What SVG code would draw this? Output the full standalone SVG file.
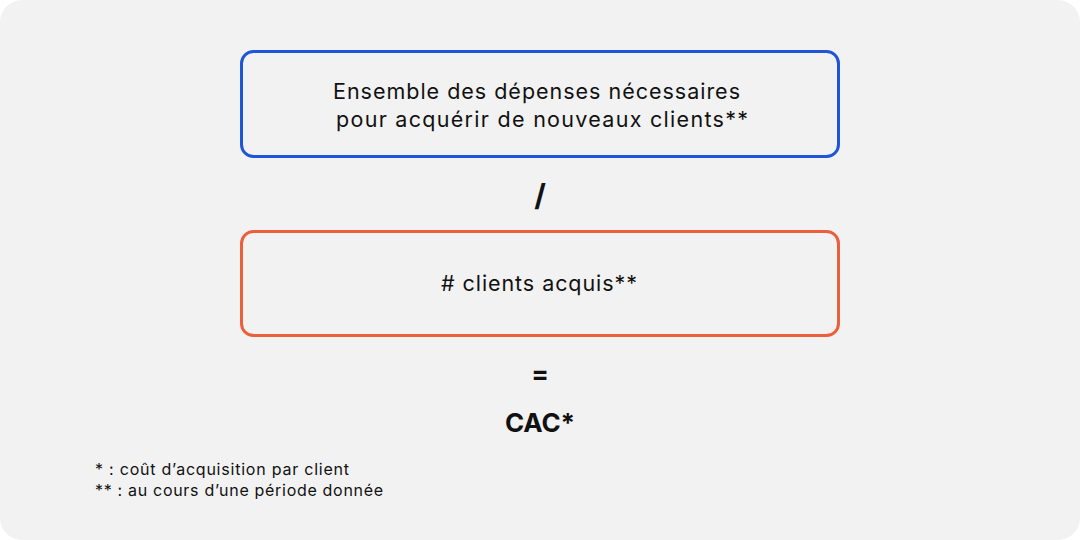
<svg xmlns="http://www.w3.org/2000/svg" width="1080" height="540" viewBox="0 0 1080 540">
<style>
.t{font-family:Inter,"Noto Sans",sans-serif;fill:#111;}
.box{fill:#f2f2f2;stroke-width:3;}
</style>
<rect x="0" y="0" width="1080" height="540" rx="22" fill="#f2f2f2"/>
<g id="node-depenses">
<rect class="box" x="241.5" y="51.5" width="597" height="105" rx="12" stroke="#1f56d9"/>
<text class="t" x="333" y="99" font-size="21.5" textLength="407" lengthAdjust="spacing">Ensemble des dépenses nécessaires</text>
<text class="t" x="336" y="127" font-size="21.5" textLength="412" lengthAdjust="spacing">pour acquérir de nouveaux clients**</text>
</g>
<g id="node-slash"><text class="t" x="540" y="206" font-size="30" font-weight="bold" text-anchor="middle">/</text></g>
<g id="node-clients">
<rect class="box" x="241.5" y="231.5" width="597" height="104" rx="12" stroke="#ec5f3b"/>
<text class="t" x="441" y="291" font-size="21.5" textLength="196" lengthAdjust="spacing"># clients acquis**</text>
</g>
<g id="node-eq"><text class="t" x="540" y="383" font-size="26" font-weight="bold" text-anchor="middle">=</text></g>
<g id="node-cac"><text class="t" x="505" y="432" font-size="26" font-weight="bold" textLength="70" lengthAdjust="spacing">CAC*</text></g>
<g id="connectors"></g>
<g id="notes">
<text class="t" x="95" y="475" font-size="16" textLength="254" lengthAdjust="spacing">* : coût d’acquisition par client</text>
<text class="t" x="95" y="496" font-size="16" textLength="288" lengthAdjust="spacing">** : au cours d’une période donnée</text>
</g>
</svg>
